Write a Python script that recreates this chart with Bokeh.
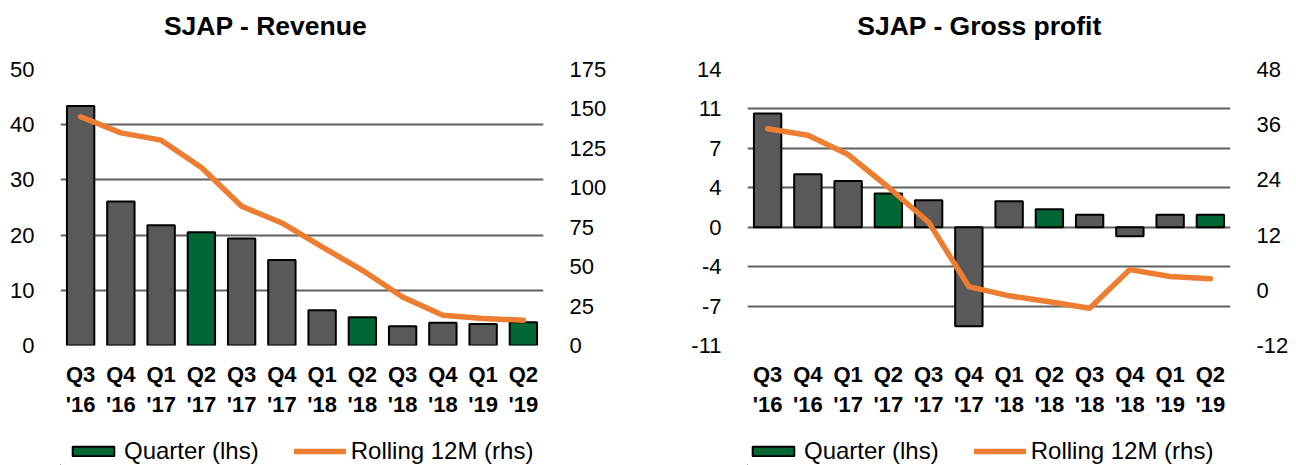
from bokeh.plotting import figure
from bokeh.models import (Range1d, LinearAxis, FixedTicker, Legend, Label,
                          LegendItem, ColumnDataSource)
from bokeh.layouts import row, column
from bokeh.embed import file_html
from bokeh.resources import INLINE

# ---------------- data ----------------
quarters = ["Q3\n'16", "Q4\n'16", "Q1\n'17", "Q2\n'17", "Q3\n'17", "Q4\n'17",
            "Q1\n'18", "Q2\n'18", "Q3\n'18", "Q4\n'18", "Q1\n'19", "Q2\n'19"]

revenue_quarter = [43.4, 26.1, 21.8, 20.5, 19.4, 15.5, 6.4, 5.1, 3.5, 4.1, 3.9, 4.2]
revenue_rolling = [145.0, 134.8, 130.2, 112.9, 88.3, 77.7, 62.5, 47.7, 30.8, 19.2, 17.1, 16.0]

gp_quarter = [10.1, 4.7, 4.1, 3.0, 2.4, -8.8, 2.3, 1.6, 1.1, -0.8, 1.1, 1.1]
gp_rolling = [35.1, 33.7, 29.5, 22.4, 14.8, 0.8, -1.2, -2.5, -3.9, 4.5, 3.0, 2.5]

rev_left_ticks = [0, 10, 20, 30, 40, 50]
rev_left_labels = ["0", "10", "20", "30", "40", "50"]
rev_right_ticks = [0, 25, 50, 75, 100, 125, 150, 175]
rev_right_labels = ["0", "25", "50", "75", "100", "125", "150", "175"]

gp_left_ticks = [-10.5, -7, -3.5, 0, 3.5, 7, 10.5, 14]
gp_left_labels = ["-11", "-7", "-4", "0", "4", "7", "11", "14"]
gp_right_ticks = [-12, 0, 12, 24, 36, 48]
gp_right_labels = ["-12", "0", "12", "24", "36", "48"]

legend_labels = ["Quarter (lhs)", "Rolling 12M (rhs)"]

GREY = "#595959"
GREEN = "#006633"
ORANGE = "#ED7D31"
GRID = "#606060"
FONT = "Liberation Sans"


def strip(total_w, h):
    s = figure(width=total_w, height=h, min_border=0,
               x_range=Range1d(0, 1), y_range=Range1d(0, 1),
               output_backend="svg", toolbar_location=None, title=None)
    s.axis.visible = False
    s.grid.visible = False
    s.outline_line_color = None
    return s


def make_chart(title, q_vals, r_vals, lticks, llabels, rticks, rlabels,
               border_left, border_right, title_x, legend_x):
    total_w = border_left + 483 + border_right
    x = list(range(len(quarters)))
    colors = [GREEN if lab.startswith("Q2") else GREY for lab in quarters]
    src = ColumnDataSource(dict(x=x, top=q_vals, bottom=[0] * len(x),
                                roll=r_vals, color=colors))

    # title strip
    ts = strip(total_w, 55)
    ts.add_layout(Label(x=title_x, y=30, x_units="screen", y_units="screen",
                        text=title, text_align="center",
                        text_baseline="alphabetic", text_font=FONT,
                        text_font_size="26.5px", text_font_style="bold",
                        text_color="#000000"))

    p = figure(frame_width=483, frame_height=276,
               min_border_left=border_left, min_border_right=border_right,
               min_border_top=14, min_border_bottom=88,
               x_range=Range1d(-0.5, len(x) - 0.5),
               y_range=Range1d(lticks[0], lticks[-1]),
               output_backend="svg", toolbar_location=None, title=None)
    p.outline_line_color = None
    p.xgrid.visible = False
    p.ygrid.ticker = FixedTicker(ticks=lticks)
    p.ygrid.grid_line_color = GRID
    p.ygrid.grid_line_width = 2

    p.extra_y_ranges = {"r": Range1d(rticks[0], rticks[-1])}

    ya = p.yaxis[0]
    ya.ticker = FixedTicker(ticks=lticks)
    ya.major_label_overrides = {t: l for t, l in zip(lticks, llabels)}

    ra = LinearAxis(y_range_name="r")
    ra.ticker = FixedTicker(ticks=rticks)
    ra.major_label_overrides = {t: l for t, l in zip(rticks, rlabels)}
    p.add_layout(ra, "right")

    for ax in (ya, ra):
        ax.axis_line_color = None
        ax.major_tick_line_color = None
        ax.minor_tick_line_color = None
        ax.major_label_text_font = FONT
        ax.major_label_text_font_size = "22px"
        ax.major_label_text_color = "#000000"
        ax.major_label_standoff = 20

    xa = p.xaxis[0]
    xa.ticker = FixedTicker(ticks=x)
    xa.major_label_overrides = {i: quarters[i] for i in x}
    xa.axis_line_color = None
    xa.major_tick_line_color = None
    xa.minor_tick_line_color = None
    xa.major_label_text_font = FONT
    xa.major_label_text_font_size = "22px"
    xa.major_label_text_font_style = "bold"
    xa.major_label_text_color = "#000000"
    xa.major_label_standoff = 10

    p.vbar(x="x", top="top", bottom="bottom", width=0.68, source=src,
           fill_color="color", line_color="#000000", line_width=2)
    p.line(x="x", y="roll", source=src, y_range_name="r",
           line_color=ORANGE, line_width=5.5, line_cap="round", line_join="round")

    # legend strip below the chart (legend keys only, placed outside the view)
    lg = strip(total_w, 32)
    key_src = ColumnDataSource(dict(x=[-1, -1], y=[-1, -1]))
    b_key = lg.vbar(x="x", top="y", bottom="y", width=0.1, source=key_src,
                    fill_color=GREEN, line_color="#000000", line_width=2)
    l_key = lg.line(x="x", y="y", source=key_src, line_color=ORANGE,
                    line_width=5.5, line_cap="round")
    legend = Legend(items=[
        LegendItem(label=legend_labels[0], renderers=[b_key]),
        LegendItem(label=legend_labels[1], renderers=[l_key]),
    ], location=(legend_x, 0), orientation="horizontal",
        glyph_width=52, glyph_height=12, label_standoff=5, spacing=35,
        padding=0, margin=0, border_line_color=None, background_fill_alpha=0,
        label_text_font=FONT, label_text_font_size="24px",
        label_text_color="#000000")
    lg.add_layout(legend, "center")
    return column(ts, p, lg, spacing=0)


c1 = make_chart("SJAP - Revenue", revenue_quarter, revenue_rolling,
                rev_left_ticks, rev_left_labels, rev_right_ticks, rev_right_labels,
                border_left=60, border_right=144, title_x=205, legend_x=7)
c2 = make_chart("SJAP - Gross profit", gp_quarter, gp_rolling,
                gp_left_ticks, gp_left_labels, gp_right_ticks, gp_right_labels,
                border_left=60, border_right=60, title_x=232, legend_x=0)

layout = row(c1, c2, spacing=0)
open("out.html", "w").write(file_html(layout, INLINE))
